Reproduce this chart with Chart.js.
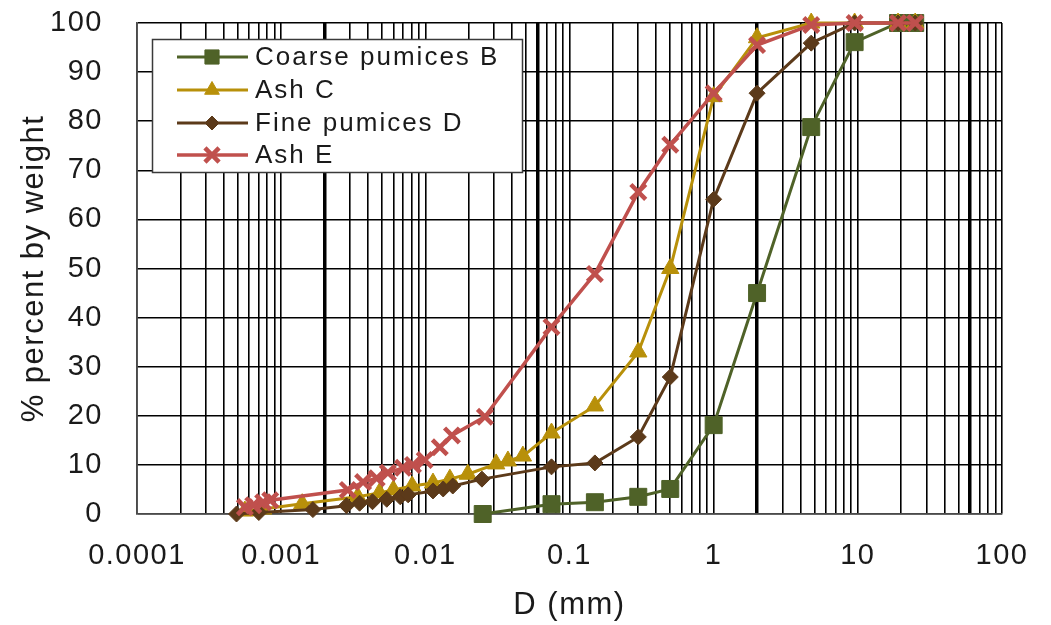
<!DOCTYPE html>
<html><head><meta charset="utf-8">
<script src="https://cdn.jsdelivr.net/npm/chart.js@4/dist/chart.umd.min.js"></script>
<style>html,body{margin:0;padding:0;background:#fff;}#wrap{width:1051px;height:625px;}</style>
</head><body><div id="wrap"><canvas id="c" width="1051" height="625"></canvas></div>
<script>
// ---- data ----
const seriesNames = ['Coarse pumices B', 'Ash C', 'Fine pumices D', 'Ash E'];

const coarseB_D = [0.025, 0.075, 0.15, 0.3, 0.5, 1, 2, 4.75, 9.5, 19, 25];
const coarseB_P = [0, 2.0, 2.4, 3.5, 5.1, 18.1, 45, 78.8, 96.1, 100, 100];

const ashC_D = [0.00056, 0.00075, 0.0014, 0.0034, 0.0048, 0.006, 0.0081, 0.0113, 0.0148, 0.0197, 0.031, 0.0374, 0.0475, 0.075, 0.15, 0.3, 0.5, 1, 2, 4.75, 9.5, 19, 25];
const ashC_P = [0.6, 1.0, 2.1, 3.5, 4.3, 4.9, 5.7, 6.3, 7.1, 8.1, 10.2, 10.8, 11.8, 16.5, 22, 33, 50, 85, 97, 100, 100, 100, 100];

const fineD_D = [0.00049, 0.0007, 0.00166, 0.00284, 0.0035, 0.0043, 0.0054, 0.0067, 0.0076, 0.0113, 0.0133, 0.0155, 0.0247, 0.075, 0.15, 0.3, 0.5, 1, 2, 4.75, 9.5, 19, 25];
const fineD_P = [0, 0.3, 0.9, 1.7, 2.2, 2.5, 3.0, 3.5, 3.9, 4.7, 5.1, 5.7, 7.1, 9.6, 10.4, 15.7, 27.9, 64.1, 85.7, 95.9, 100, 100, 100];

const ashE_D = [0.00056, 0.00064, 0.00075, 0.00084, 0.0029, 0.0037, 0.0046, 0.0055, 0.007, 0.0082, 0.0099, 0.0126, 0.0153, 0.0259, 0.075, 0.15, 0.3, 0.5, 1, 2, 4.75, 9.5, 19, 25];
const ashE_P = [1.4, 1.8, 2.4, 2.8, 4.9, 6.5, 7.3, 8.4, 9.4, 10.0, 11.0, 13.6, 16.0, 19.8, 38.1, 48.9, 65.6, 75.2, 85.7, 95.5, 99.6, 100, 100, 100];

const xTickValues = [0.0001, 0.001, 0.01, 0.1, 1, 10, 100];
const xTickLabels = ['0.0001', '0.001', '0.01', '0.1', '1', '10', '100'];
const yTickValues = [0, 10, 20, 30, 40, 50, 60, 70, 80, 90, 100];
const yTickLabels = ['0', '10', '20', '30', '40', '50', '60', '70', '80', '90', '100'];
const xBoundaryValues = [0.002, 0.06, 2, 60];   // heavy vertical lines
const xTitle = 'D (mm)';
const yTitle = '% percent by weight';

// ---- styling ----
const colors = ['#4F6228', '#B8900A', '#5C3A1A', '#C0504D'];
const styles = ['rect', 'triangle', 'rectRot', 'crossRot'];
const radii = [12, 10, 8, 10.5];
const lineW = [3, 3, 3, 3.5];
const ptBorder = [1, 1, 1, 4.5];
const legendRadii = [10, 8.5, 7, 10];

const seriesD = [coarseB_D, ashC_D, fineD_D, ashE_D];
const seriesP = [coarseB_P, ashC_P, fineD_P, ashE_P];

const gridVals = [];
for (let n = -4; n <= 1; n++) for (let k = 1; k <= 9; k++) gridVals.push(k * Math.pow(10, n));
gridVals.push(100);

const sameLog = (a, b) => Math.abs(Math.log10(a) - Math.log10(b)) < 1e-6;
const FONT = "'Liberation Sans', Arial, sans-serif";
const TXT = '#1a1a1a';

const datasets = seriesNames.map((name, i) => ({
  label: name,
  data: seriesD[i].map((d, j) => ({x: d, y: seriesP[i][j]})),
  borderColor: colors[i],
  backgroundColor: colors[i],
  borderWidth: lineW[i],
  pointStyle: styles[i],
  pointRadius: radii[i],
  pointHoverRadius: radii[i],
  pointBackgroundColor: colors[i],
  pointBorderColor: colors[i],
  pointBorderWidth: ptBorder[i],
  tension: 0,
  clip: false,
  order: 4 - i
}));

const spacingPlugin = {
  id: 'spacing',
  beforeInit(chart) { chart.ctx.letterSpacing = '1.5px'; },
  beforeLayout(chart) { chart.ctx.letterSpacing = '1.5px'; },
  beforeDraw(chart) { chart.ctx.letterSpacing = '1.5px'; }
};

function drawMarker(ctx, style, r, x, y, color, bw) {
  if (Chart.helpers && Chart.helpers.drawPoint) {
    ctx.fillStyle = color; ctx.strokeStyle = color; ctx.lineWidth = bw;
    Chart.helpers.drawPoint(ctx, {pointStyle: style, radius: r, rotation: 0, borderWidth: bw}, x, y);
  }
}

const legendPlugin = {
  id: 'customLegend',
  afterDraw(chart) {
    const ctx = chart.ctx;
    ctx.save();
    ctx.fillStyle = '#fff';
    ctx.fillRect(152, 39, 370, 133);
    ctx.strokeStyle = '#3a3a3a';
    ctx.lineWidth = 1.5;
    ctx.strokeRect(152.5, 39.5, 370, 133);
    const ys = [57, 90, 123, 155];
    chart.data.datasets.forEach((ds, i) => {
      const y = ys[i];
      ctx.strokeStyle = ds.borderColor;
      ctx.lineWidth = ds.borderWidth;
      ctx.beginPath(); ctx.moveTo(177, y); ctx.lineTo(248, y); ctx.stroke();
      drawMarker(ctx, ds.pointStyle, legendRadii[i], 212, y, ds.borderColor, ds.pointBorderWidth);
      ctx.letterSpacing = '2px';
      ctx.fillStyle = TXT;
      ctx.font = "26px " + FONT;
      ctx.textAlign = 'left';
      ctx.textBaseline = 'middle';
      ctx.fillText(ds.label, 255, y + 1);
    });
    ctx.restore();
  }
};

new Chart(document.getElementById('c'), {
  type: 'line',
  data: {datasets},
  plugins: [spacingPlugin, legendPlugin],
  options: {
    responsive: false,
    animation: false,
    devicePixelRatio: 1,
    layout: {padding: {top: 23, right: 49, left: 0, bottom: 0}},
    plugins: {legend: {display: false}, tooltip: {enabled: false}},
    scales: {
      x: {
        type: 'logarithmic',
        min: 0.0001, max: 100,
        afterBuildTicks: s => { s.ticks = gridVals.map(v => ({value: v})); },
        afterFit: s => { s.height = 111; s.paddingLeft = 0; s.paddingRight = 0; },
        ticks: {
          autoSkip: false, maxRotation: 0, minRotation: 0,
          padding: 25, color: TXT,
          font: {family: FONT, size: 29},
          callback: v => { const i = xTickValues.findIndex(t => sameLog(t, v)); return i >= 0 ? xTickLabels[i] : ''; }
        },
        grid: {
          color: '#000',
          lineWidth: c => (c.tick && xBoundaryValues.some(b => sameLog(b, c.tick.value))) ? 3.5 : 1.6,
          drawTicks: false
        },
        border: {display: true, color: '#4a4a4a', width: 1.6},
        title: {display: true, text: xTitle, color: TXT, font: {family: FONT, size: 31}, padding: {top: 0, bottom: 1}}
      },
      y: {
        type: 'linear',
        min: 0, max: 100,
        afterBuildTicks: s => { s.ticks = yTickValues.map(v => ({value: v})); },
        afterFit: s => { s.width = 137; s.paddingTop = 0; s.paddingBottom = 0; },
        ticks: {
          padding: 34, color: TXT,
          font: {family: FONT, size: 29},
          callback: v => { const i = yTickValues.indexOf(v); return i >= 0 ? yTickLabels[i] : ''; }
        },
        grid: {color: '#000', lineWidth: 1.6, drawTicks: false},
        border: {display: true, color: '#4a4a4a', width: 1.6},
        title: {display: true, text: yTitle, color: TXT, font: {family: FONT, size: 31}, padding: {top: 16, bottom: 0}}
      }
    }
  }
});
</script></body></html>
